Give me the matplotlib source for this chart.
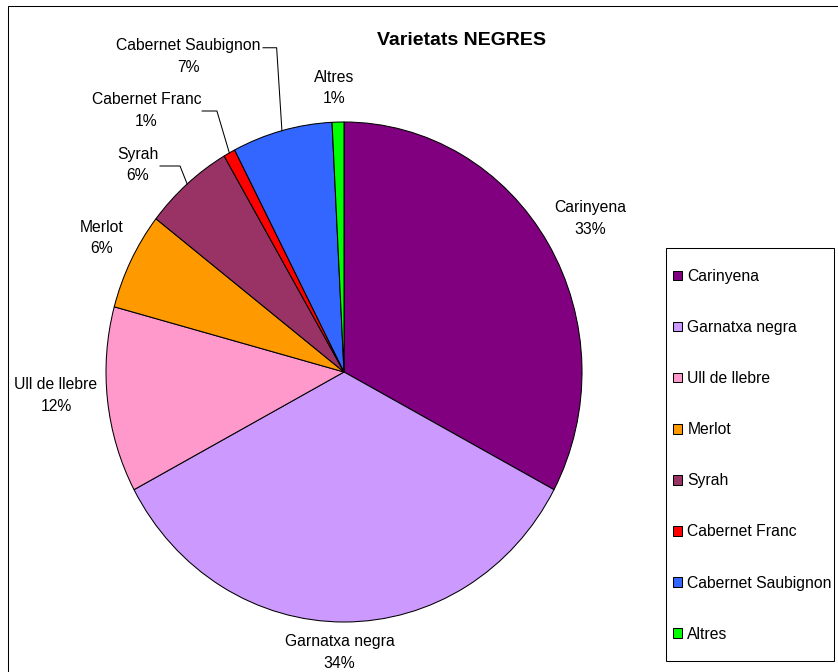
import matplotlib
matplotlib.use("Agg")
import matplotlib.pyplot as plt
from matplotlib.patches import Rectangle
from matplotlib.lines import Line2D
import numpy as np

plt.rcParams['font.family'] = ['Liberation Sans', 'DejaVu Sans']

# ---------------- data ----------------
title = "Varietats NEGRES"
categories = ["Carinyena", "Garnatxa negra", "Ull de llebre", "Merlot", "Syrah",
              "Cabernet Franc", "Cabernet Saubignon", "Altres"]
shares = [32.8, 34.4, 12.0, 6.3, 6.1, 0.8, 6.8, 0.8]

# ---------------- style / layout ----------------
colors = ["#800080", "#CC99FF", "#FF99CC", "#FF9900", "#993366",
          "#FF0000", "#3366FF", "#00FF00"]
# label centres in pie-axes data units
label_pos = {
    "Carinyena": (1.034, 0.613),
    "Garnatxa negra": (-0.019, -1.123),
    "Ull de llebre": (-1.21, -0.094),
    "Merlot": (-1.017, 0.536),
    "Syrah": (-0.867, 0.828),
    "Cabernet Franc": (-0.830, 1.046),
    "Cabernet Saubignon": (-0.653, 1.262),
    "Altres": (-0.042, 1.136),
}
# leader lines: elbow point and end point (near label)
leaders = {
    "Syrah": ((-0.689, 0.824), (-0.773, 0.824)),
    "Cabernet Franc": ((-0.534, 1.044), (-0.596, 1.044)),
    "Cabernet Saubignon": ((-0.283, 1.297), (-0.340, 1.297)),
}

W, H, DPI = 838, 672, 100
FS = 11.3
LW = 0.75
fig = plt.figure(figsize=(W / DPI, H / DPI), dpi=DPI)

cx, cy, rx, ry = 344, 372, 238, 250
ax = fig.add_axes([(cx - rx) / W, (H - cy - ry) / H, 2 * rx / W, 2 * ry / H])
wedges, _ = ax.pie(shares, colors=colors, startangle=90, counterclock=False,
                   wedgeprops=dict(edgecolor='black', linewidth=LW))
ax.set_aspect('auto')
ax.set_xlim(-1, 1)
ax.set_ylim(-1, 1)
ax.axis('off')

total = sum(shares)
for name, val, w in zip(categories, shares, wedges):
    lx, ly = label_pos[name]
    ax.text(lx, ly, f"{name}\n{val / total * 100:.0f}%", ha='center', va='center',
            fontsize=FS, linespacing=1.55, clip_on=False)
    if name in leaders:
        mid = np.deg2rad((w.theta1 + w.theta2) / 2)
        sx, sy = np.cos(mid), np.sin(mid)
        (ex, ey), (tx, ty) = leaders[name]
        ax.add_line(Line2D([sx, ex, tx], [sy, ey, ty], color='black', lw=LW,
                           clip_on=False))

fig.text(461 / W, 1 - 40.7 / H, title, ha='center', va='center',
         fontsize=14, fontweight='bold')

# legend
leg = fig.legend(wedges, categories, loc='upper left',
                 bbox_to_anchor=(673 / W, 1 - 269 / H), frameon=False,
                 fontsize=FS, handlelength=0.57, handleheight=0.57,
                 handletextpad=0.34, labelspacing=2.30, borderpad=0,
                 borderaxespad=0)
fig.add_artist(Rectangle((666 / W, 1 - 661 / H), 168 / W, (661 - 248) / H,
                         transform=fig.transFigure, fill=False,
                         edgecolor='black', lw=LW))
# chart-area border (left and top visible)
fig.add_artist(Rectangle((7.5 / W, -10 / H), 850 / W, (H - 6 + 10) / H,
                         transform=fig.transFigure, fill=False,
                         edgecolor='black', lw=LW))

fig.savefig("out.png", dpi=DPI)
